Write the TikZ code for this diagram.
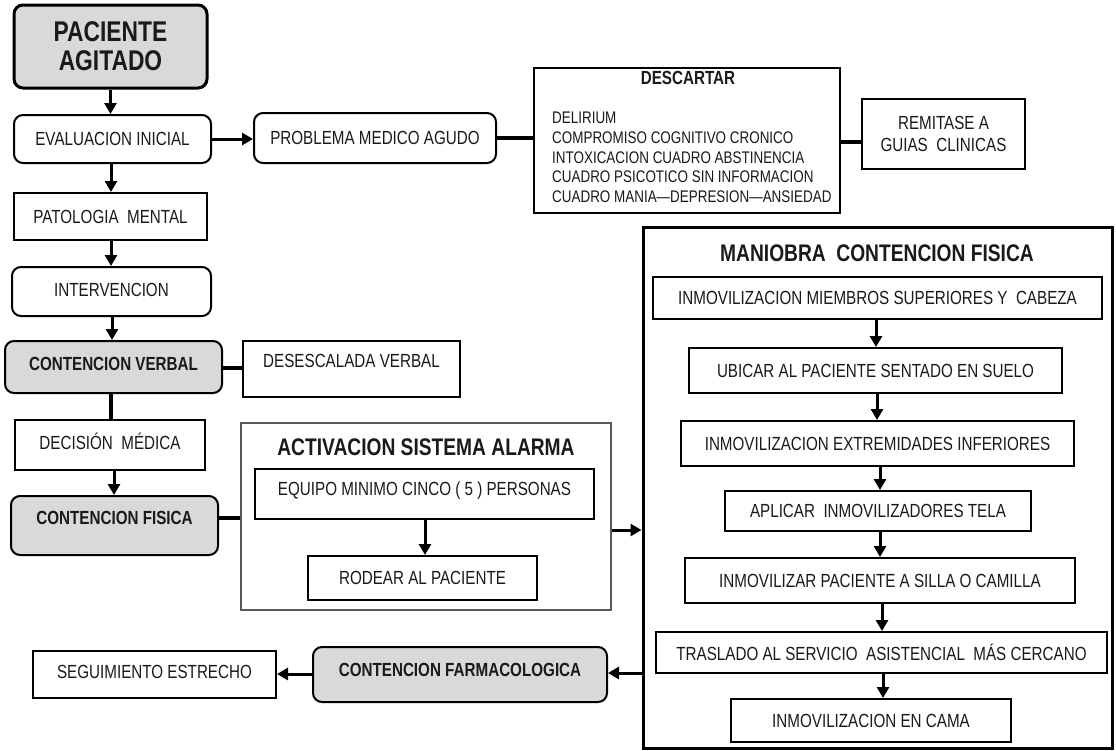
\documentclass[tikz,border=0pt]{standalone}
\usepackage{fontspec}
\setmainfont{Liberation Sans}[FakeStretch=0.8]
\usetikzlibrary{arrows.meta}
\definecolor{boxgray}{HTML}{D9D9D9}
\definecolor{txt}{HTML}{1A1A1A}
\newcommand{\fsN}{\fontsize{19}{21}\selectfont}
\newcommand{\fsB}{\fontsize{19}{21}\selectfont\bfseries}
\newcommand{\fsT}{\fontsize{24}{26}\selectfont\bfseries}
\newcommand{\fsL}{\fontsize{16.8}{19.7}\selectfont}
\newcommand{\fsP}{\fontsize{28.5}{29}\selectfont\bfseries}
\newcommand{\fsD}{\fontsize{19}{21}\selectfont\bfseries}
\newcommand{\txtup}[2]{\raisebox{#1}[\height][\depth]{#2}}
\begin{document}
\begin{tikzpicture}[x=1pt,y=-1pt,
  base/.style={draw=black, line width=2pt, align=center, inner sep=0pt, font=\fsN, text=txt},
  rbox/.style={base, rounded corners=9pt},
  gbox/.style={rbox, fill=boxgray, font=\fsB},
  wh/.style 2 args={minimum width=#1, minimum height=#2},
  arr/.style={line width=3pt, -{Triangle[length=11pt,width=12pt]}},
  link/.style={line width=3.5pt},
  ttl/.style={inner sep=0pt, font=\fsT, text=txt}]
\useasboundingbox (0,0) rectangle (1116,750);
\fill[white] (0,0) rectangle (1116,750);

% left column
\node[gbox, font=\fsP, line width=3pt, wh={193pt}{83pt}] (pac) at (110.5,46.5) {PACIENTE\\AGITADO};
\node[rbox, wh={197pt}{48pt}] (eval) at (112.5,139) {EVALUACION INICIAL};
\node[rbox, wh={242pt}{50pt}] (prob) at (375,138) {PROBLEMA MEDICO AGUDO};
\node[base, line width=1.2pt, wh={306pt}{145pt}] (desc) at (687,140.5) {};
\node[inner sep=0pt, font=\fsD, text=txt] (desct) at (688,78) {DESCARTAR};
\node[inner sep=0pt, font=\fsL, text=txt, align=left, anchor=north west] (descl) at (552,112)
  {DELIRIUM\\COMPROMISO COGNITIVO CRONICO\\INTOXICACION CUADRO ABSTINENCIA\\CUADRO PSICOTICO SIN INFORMACION\\CUADRO MANIA—DEPRESION—ANSIEDAD};
\node[base, wh={163pt}{70pt}, font=\fontsize{19}{22}\selectfont] (rem) at (943.5,134) {REMITASE A\\GUIAS~ CLINICAS};
\node[base, wh={193pt}{47pt}] (patol) at (110.5,216.5) {PATOLOGIA~ MENTAL};
\node[rbox, wh={199pt}{49pt}] (interv) at (111.5,291.5) {\txtup{2pt}{INTERVENCION}};
\node[gbox, wh={217pt}{52pt}] (cv) at (113.5,367) {\txtup{3pt}{CONTENCION VERBAL}};
\node[base, wh={217pt}{56pt}] (des) at (351.5,369) {\txtup{8pt}{DESESCALADA VERBAL}};
\node[base, wh={190pt}{50pt}] (dec) at (110,445) {\txtup{4pt}{DECISIÓN~ MÉDICA}};
\node[gbox, wh={207pt}{59pt}] (cf) at (114.5,525.5) {\txtup{8pt}{CONTENCION FISICA}};

% activacion
\node[base, draw=black!65, line width=1.3pt, wh={370pt}{187pt}] (act) at (426,516.5) {};
\node[ttl] (actt) at (426,447) {ACTIVACION SISTEMA ALARMA};
\node[base, wh={339pt}{50pt}] (equipo) at (424.5,494) {\txtup{3pt}{EQUIPO MINIMO CINCO ( 5 ) PERSONAS}};
\node[base, wh={229pt}{44pt}] (rodear) at (422.5,578) {RODEAR AL PACIENTE};

% maniobra
\node[base, line width=3pt, wh={469pt}{521pt}] (man) at (877.5,487.5) {};
\node[ttl] (mant) at (877,253) {MANIOBRA~ CONTENCION FISICA};
\node[base, wh={449pt}{42pt}] (m1) at (877.5,298) {INMOVILIZACION MIEMBROS SUPERIORES Y~ CABEZA};
\node[base, wh={373pt}{45pt}] (m2) at (875.5,370.5) {UBICAR AL PACIENTE SENTADO EN SUELO};
\node[base, wh={393pt}{45pt}] (m3) at (877.5,443.5) {INMOVILIZACION EXTREMIDADES INFERIORES};
\node[base, wh={306pt}{40pt}] (m4) at (878,511) {APLICAR~ INMOVILIZADORES TELA};
\node[base, wh={390pt}{45pt}] (m5) at (880,580.5) {INMOVILIZAR PACIENTE A SILLA O CAMILLA};
\node[base, wh={451pt}{41pt}] (m6) at (881.5,652.5) {TRASLADO AL SERVICIO~ ASISTENCIAL~ MÁS CERCANO};
\node[base, wh={280pt}{43pt}] (m7) at (871,720.5) {INMOVILIZACION EN CAMA};

% bottom
\node[gbox, wh={294pt}{55pt}] (farm) at (460,674.5) {\txtup{5pt}{CONTENCION FARMACOLOGICA}};
\node[base, wh={243pt}{47pt}] (seg) at (154.5,674.5) {\txtup{3pt}{SEGUIMIENTO ESTRECHO}};

% connectors
\draw[arr] (pac.south) -- (pac.south |- eval.north);
\draw[arr] (eval.east) -- (eval.east -| prob.west);
\draw[link] (prob.east) -- (prob.east -| desc.west);
\draw[link] (desc.east |- 0,142) -- (rem.west |- 0,142);
\draw[arr] (eval.south -| 111,0) -- (patol.north -| 111,0);
\draw[arr] (patol.south -| 111,0) -- (interv.north -| 111,0);
\draw[arr] (interv.south -| 112,0) -- (cv.north -| 112,0);
\draw[link] (cv.east |- 0,368) -- (des.west |- 0,368);
\draw[link] (cv.south -| 111,0) -- (dec.north -| 111,0);
\draw[arr] (dec.south -| 114,0) -- (cf.north -| 114,0);
\draw[link] (cf.east |- 0,518) -- (act.west |- 0,518);
\draw[arr] (act.east |- 0,530) -- (man.west |- 0,530);
\draw[arr] (equipo.south -| 425,0) -- (rodear.north -| 425,0);
\draw[arr] (m1.south -| 876,0) -- (m2.north -| 876,0);
\draw[arr] (m2.south -| 877,0) -- (m3.north -| 877,0);
\draw[arr] (m3.south -| 880,0) -- (m4.north -| 880,0);
\draw[arr] (m4.south -| 880,0) -- (m5.north -| 880,0);
\draw[arr] (m5.south -| 882,0) -- (m6.north -| 882,0);
\draw[arr] (m6.south -| 883,0) -- (m7.north -| 883,0);
\draw[arr] (man.west |- 0,673) -- (farm.east |- 0,673);
\draw[arr] (farm.west |- 0,674) -- (seg.east |- 0,674);
\end{tikzpicture}
\end{document}
